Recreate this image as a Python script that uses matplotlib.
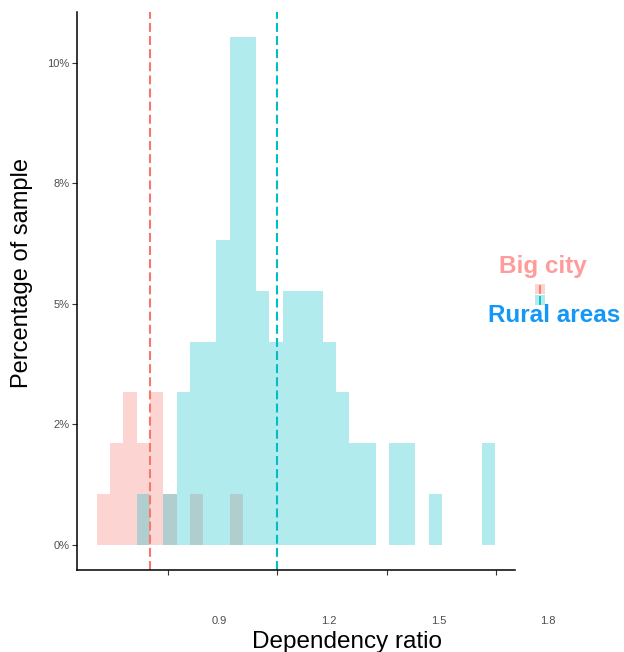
import matplotlib
matplotlib.use("Agg")
import numpy as np
import matplotlib.pyplot as plt
from matplotlib.patches import Rectangle
from matplotlib.lines import Line2D
from matplotlib.transforms import ScaledTranslation

plt.rcParams['font.family'] = ['Liberation Sans', 'DejaVu Sans']

# 30 shared histogram bins
bin_start = 0.7064
bin_width = 0.03636
city_counts = [1, 2, 3, 2, 3, 1, 0, 1, 0, 0, 1, 0, 0, 0, 0,
               0, 0, 0, 0, 0, 0, 0, 0, 0, 0, 0, 0, 0, 0, 0]
rural_counts = [0, 0, 0, 1, 0, 1, 3, 4, 4, 6, 10, 10, 5, 4, 5,
                5, 5, 4, 3, 2, 2, 0, 2, 2, 0, 1, 0, 0, 0, 2]
city_mean = 0.851
rural_mean = 1.2

x_ticks = [0.9, 1.2, 1.5, 1.8]
y_ticks = [0, 2.5, 5, 7.5, 10]
y_tick_labels = ['0%', '2%', '5%', '8%', '10%']
group_labels = ['Big city', 'Rural areas']

city_col = '#F8766D'
rural_col = '#00BFC4'

W, H = 624, 652


def px(x, y):
    # pixel position -> figure fraction
    return x / W, 1 - y / H


n_total = sum(city_counts) + sum(rural_counts)
edges = bin_start + bin_width * np.arange(len(city_counts))
city_pct = np.array(city_counts) / n_total * 100
rural_pct = np.array(rural_counts) / n_total * 100

fig = plt.figure(figsize=(W / 100, H / 100), dpi=100)
ax = fig.add_axes([77 / W, 82 / H, 438 / W, 558 / H])

ax.bar(edges, city_pct, width=bin_width, align='edge', color=city_col, alpha=0.3, linewidth=0)
ax.bar(edges, rural_pct, width=bin_width, align='edge', color=rural_col, alpha=0.3, linewidth=0)

ax.axvline(city_mean, color=city_col, lw=1.5, ls=(0, (4.3, 2.0)))
ax.axvline(rural_mean, color=rural_col, lw=1.5, ls=(0, (4.3, 2.0)))

span = edges[-1] + bin_width - bin_start
ax.set_xlim(bin_start - 0.05 * span, edges[-1] + bin_width + 0.05 * span)
ymax = max(city_pct.max(), rural_pct.max())
ax.set_ylim(-0.05 * ymax, 1.05 * ymax)

for side in ['top', 'right']:
    ax.spines[side].set_visible(False)
for side in ['left', 'bottom']:
    ax.spines[side].set_linewidth(1.1)
    ax.spines[side].set_color('black')

ax.set_yticks(y_ticks, labels=y_tick_labels)
ax.set_xticks(x_ticks, labels=[])
ax.tick_params(axis='both', length=3.5, width=0.8, color='#333333',
               labelsize=8, labelcolor='#4D4D4D', pad=2)

# x tick labels sit below and to the right of their ticks
shift = ScaledTranslation(0.52, -0.51, fig.dpi_scale_trans)
for t in x_ticks:
    ax.text(t, 0, f'{t:.1f}', transform=ax.get_xaxis_transform() + shift,
            ha='center', va='center', fontsize=8, color='#4D4D4D')

fig.text(*px(22, 273), 'Percentage of sample', rotation=90,
         ha='center', va='center', fontsize=17, color='black')
fig.text(*px(347.5, 648), 'Dependency ratio', ha='center', va='baseline',
         fontsize=17.5, color='black')

# legend: keys with labels above and below
fig.text(*px(543, 266), group_labels[0], ha='center', va='center',
         fontsize=17.5, fontweight='bold', color='#FF9B9B')
fig.text(*px(554, 316), group_labels[1], ha='center', va='center',
         fontsize=17.5, fontweight='bold', color='#1497F5')
for top, col in [(284, city_col), (295, rural_col)]:
    x0, y0 = px(535, top + 10)
    fig.add_artist(Rectangle((x0, y0), 10 / W, 10 / H, transform=fig.transFigure,
                             facecolor=col, alpha=0.3, linewidth=0))
    xl, _ = px(540, 0)
    fig.add_artist(Line2D([xl, xl], [y0 + 1.5 / H, y0 + 8.5 / H], transform=fig.transFigure,
                          color=col, lw=1.3))

fig.savefig('out.png', dpi=100)
